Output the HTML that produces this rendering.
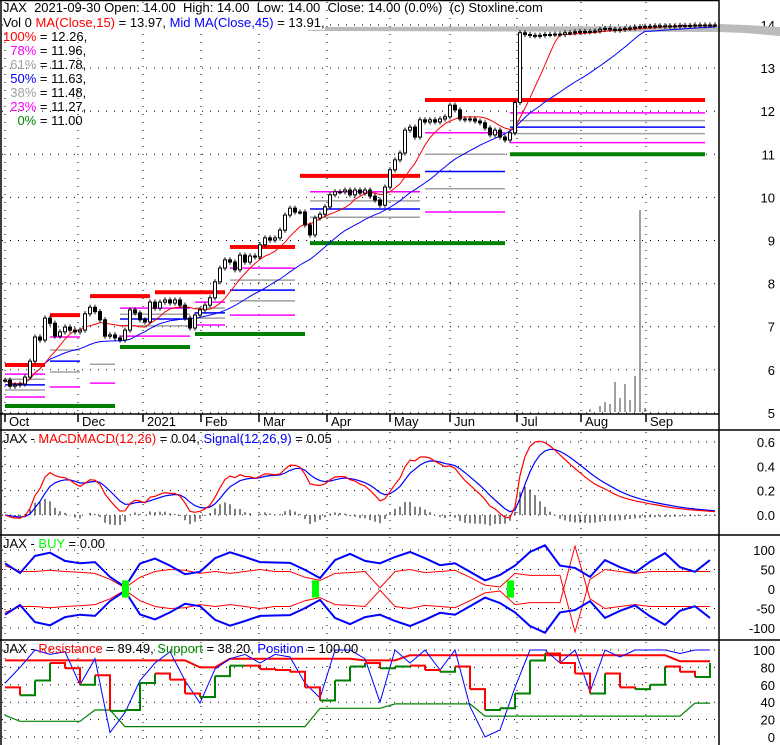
<!DOCTYPE html>
<html><head><meta charset="utf-8"><style>
html,body{margin:0;padding:0;background:#fff;}
svg{display:block;font-family:"Liberation Sans",sans-serif;}
text{font-size:13px;}
</style></head><body>
<svg id="chart" width="780" height="745" viewBox="0 0 780 745" xmlns="http://www.w3.org/2000/svg"></svg>
<script>
// ---- data ----
const closes = [5.76,5.62,5.65,5.67,5.83,6.2,6.76,6.69,7.2,7.08,
6.78,6.88,6.99,6.92,6.88,6.92,7.3,7.45,7.35,7.16,
6.78,6.81,6.74,6.69,6.92,7.39,7.32,7.16,7.11,7.57,
7.43,7.57,7.62,7.55,7.62,7.5,7.2,6.97,7.27,7.39,
7.5,7.67,8.04,8.36,8.55,8.5,8.32,8.66,8.5,8.64,
8.62,8.9,9.06,9.01,9.06,9.24,9.59,9.75,9.66,9.66,
9.36,9.13,9.52,9.61,9.78,10.06,10.13,10.13,10.17,10.06,
10.17,10.1,10.17,10.03,9.94,9.82,10.24,10.64,10.87,11.03,
11.56,11.63,11.4,11.8,11.75,11.8,11.75,11.82,11.87,12.14,
12.03,11.82,11.8,11.82,11.77,11.73,11.61,11.45,11.56,11.4,
11.33,11.5,12.2,13.82,13.78,13.76,13.75,13.76,13.78,13.78,
13.79,13.78,13.82,13.82,13.84,13.85,13.84,13.85,13.86,13.9,
13.92,13.9,13.88,13.9,13.92,13.93,13.95,13.96,13.97,13.97,
13.98,13.98,13.97,13.98,13.98,13.99,13.99,13.99,14.0,14.0,
14.0,14.0,14.0];
const volIdx = [117,119,120,121,122,123,124,125,126,127,128];
const volVals = [3,6,10,8,30,14,28,12,36,202,4];
const priceTicks = [14,13,12,11,10,9,8,7,6,5];
const monthLabels = ["Oct","Dec","2021","Feb","Mar","Apr","May","Jun","Jul","Aug","Sep"];
const monthBars = [0,14.6,27.6,39.2,50.8,64.4,77,89,102.4,115.2,128.2];
// fib segments: [startBar,endBar,price,kind]
const levelStart = [0,0,0,0,0,0,0, 9,9,9,9,9,9, 17,17,17, 23,30,23,23,23,23,23, 38,45,45,45,45,45,45, 38,38,38,38,38, 59,61,61,61,61,61, 84,84,84,84,84, 84,101,101,101,101,101,101];
const levelEnd   = [8,8,8,8,8,8,22, 15,15,15,15,15,15, 29,22,22, 37,44,37,37,37,37,37, 60,58,58,58,58,58,58, 44,44,44,44,44, 83,100,83,83,83,83, 100,100,100,100,100, 140,140,140,140,140,140,140];
const levelPrice = [6.11,5.9,5.78,5.65,5.53,5.37,5.16, 7.27,6.76,6.46,6.2,5.95,5.6, 7.71,6.13,5.69, 6.53,7.8,7.43,7.29,7.18,7.02,6.78, 6.83,8.85,8.36,8.08,7.85,7.6,7.27, 7.57,7.43,7.32,7.2,7.04, 10.5,8.94,10.13,9.92,9.73,9.54, 11.5,11.0,10.6,10.2,9.66, 12.26,11.0,11.96,11.78,11.63,11.48,11.27];
const levelKind  = ["r","m","g","b","g","m","G", "r","m","g","b","g","m", "r","g","m", "G","r","m","g","b","g","m", "G","r","m","g","b","g","m", "m","g","b","g","m", "r","G","m","g","b","g", "m","g","b","g","m", "r","G","m","g","b","g","m"];
// BUY panel (every 3 bars)
const buyBlue = [66,41,85,93,72,66,69,31,5,65,78,60,38,44,79,94,82,69,68,67,49,28,74,90,72,66,82,95,79,61,66,44,22,36,60,95,112,60,54,31,74,56,42,70,92,56,44,74];
const buyRed  = [60,45,45,48,45,43,40,25,3,30,45,50,48,40,45,40,45,50,45,45,30,22,40,42,45,3,45,50,42,45,48,30,10,5,40,35,35,35,-110,25,50,45,40,45,45,45,45,45];
const buySignalBars = [24,62,101];
// Resistance panel (every 3 bars)
const resistance = [88,88,88,88,88,88,88,88,88,88,88,88,88,80,80,90,90,90,90,90,90,90,90,90,88,88,88,94,94,94,94,94,94,94,94,94,94,94,94,94,94,94,94,94,94,87,87,87];
const support = [25,18,18,18,18,18,31,31,12,12,12,12,12,12,12,12,12,12,12,12,12,33,33,33,33,33,38,38,38,38,38,38,24,24,24,24,24,24,24,24,24,24,24,24,24,24,39,39];
const position = [62,80,100,95,98,60,90,5,28,65,85,98,65,39,78,90,95,85,95,92,62,45,100,100,90,40,100,85,100,77,100,35,0,8,57,100,100,85,100,52,100,92,100,100,100,96,100,100];
const oscillator = [57,48,65,85,79,60,71,30,31,62,73,66,50,46,70,82,82,78,77,75,57,42,65,81,85,79,81,82,77,75,81,55,31,33,50,88,96,85,73,50,73,57,55,60,81,75,69,85];

const NS="http://www.w3.org/2000/svg";
const svg=document.getElementById('chart');
function mk(tag,attrs,parent){const e=document.createElementNS(NS,tag);for(const k in attrs)e.setAttribute(k,attrs[k]);(parent||svg).appendChild(e);return e;}
const bx=i=>5+5*i;
const py=p=>25+(14-p)*43.1;
const my=v=>515-v*121.7;
const byy=v=>589-v*0.39;
const ry=v=>737-v*0.87;
const sx=i=>5+15*i;
const RIGHT=719;
const grid=mk('g',{});


function hdots(y,g){mk('line',{x1:2,x2:RIGHT,y1:y,y2:y,stroke:'#000','stroke-dasharray':'1,7','stroke-width':1},g);}
monthBars.forEach((b,k)=>{const x=bx(b);
 [[2,412],[432,533],[537,638],[642,745]].forEach(r=>{mk('line',{x1:x,x2:x,y1:r[0],y2:r[1],stroke:'#000','stroke-dasharray':'1,7'},grid);});
});
priceTicks.forEach(p=>{hdots(py(p),grid);const t=mk('text',{x:775,y:py(p)+5,'text-anchor':'end'});t.textContent=p;});
[0.6,0.4,0.2,0.0].forEach(v=>{hdots(my(v),grid);const t=mk('text',{x:775,y:my(v)+5,'text-anchor':'end'});t.textContent=v.toFixed(1);});
[100,50,0,-50,-100].forEach(v=>{hdots(byy(v),grid);const t=mk('text',{x:775,y:byy(v)+5,'text-anchor':'end'});t.textContent=v;});
[100,80,60,40,20,0].forEach(v=>{hdots(ry(v),grid);const t=mk('text',{x:775,y:ry(v)+5,'text-anchor':'end'});t.textContent=v;});
const band=mk('polygon',{points:'308,27 719,26 719,24 745,25 780,27 780,36 745,33 719,32 308,31',fill:'#bbbbbb'});


volIdx.forEach((b,k)=>{const l=mk('line',{x1:bx(b),x2:bx(b),y1:412,y2:412-volVals[k],stroke:'#808080','stroke-width':1.5});
 
 });
const colors={r:'#ff0000',m:'#ff00ff',g:'#a0a0a0',b:'#0000ff',G:'#008000'};
levelPrice.forEach((p,k)=>{const kd=levelKind[k];const w=(kd==='r'||kd==='G')?4:1.5;
 const l=mk('line',{x1:bx(levelStart[k]),x2:bx(levelEnd[k]),y1:py(p),y2:py(p),stroke:colors[kd],'stroke-width':w});
 
 });
function sma(n){return closes.map((c,i)=>{const s=Math.max(0,i-n+1);let t=0;for(let j=s;j<=i;j++)t+=closes[j];return t/(i-s+1);});}
function poly(vals,fx,fy,color,w,name){const pts=vals.map((v,i)=>fx(i).toFixed(1)+','+fy(v).toFixed(1)).join(' ');
 const p=mk('polyline',{points:pts,fill:'none',stroke:color,'stroke-width':w});
 
 return p;}
poly(sma(26),bx,py,'#0000ff',1,'ma45-line');
poly(sma(9),bx,py,'#ff0000',1,'ma15-line');
closes.forEach((c,i)=>{const o=i?closes[i-1]:c;const hi=Math.max(o,c)+0.06,lo=Math.min(o,c)-0.06;
 const g=mk('g',{});
 
 
 mk('line',{x1:bx(i),x2:bx(i),y1:py(hi),y2:py(lo),stroke:'#000'},g);
 const top=py(Math.max(o,c)),h=Math.max(1,Math.abs(py(o)-py(c)));
 mk('rect',{x:bx(i)-1.5,y:top,width:3,height:h,fill:c>=o?'#fff':'#000',stroke:'#000','stroke-width':1},g);});
function ema(src,n){const a=2/(n+1);const out=[];src.forEach((v,i)=>out.push(i?a*v+(1-a)*out[i-1]:v));return out;}
const e1=ema(closes,7),e2=ema(closes,15);
const macd=e1.map((v,i)=>v-e2[i]);const sig=ema(macd,5);
macd.forEach((m,i)=>{const d=m-sig[i];const l=mk('line',{x1:bx(i),x2:bx(i),y1:my(0),y2:my(d),stroke:'#000'});
 
 });
poly(sig,bx,my,'#0000ff',1.2,'signal-line');
poly(macd,bx,my,'#ff0000',1.2,'macd-line');
poly(buyRed,sx,byy,'#ff0000',1,'buy-red-upper');
poly(buyRed.map(v=>-v),sx,byy,'#ff0000',1,'buy-red-lower');
poly(buyBlue,sx,byy,'#0000ff',2,'buy-blue-upper');
poly(buyBlue.map(v=>-v),sx,byy,'#0000ff',2,'buy-blue-lower');
buySignalBars.forEach(b=>{const r=mk('rect',{x:bx(b)-3,y:byy(22),width:7,height:byy(-22)-byy(22),fill:'#00ff00'});
 
 });
poly(support,sx,ry,'#008000',1.2,'support-line');
poly(resistance,sx,ry,'#ff0000',2,'resistance-line');
poly(position,sx,ry,'#0000ff',1,'position-line');
oscillator.forEach((v,i)=>{if(!i)return;const p=oscillator[i-1];
 const s=mk('polyline',{points:`${sx(i-1)},${ry(p)} ${sx(i)},${ry(p)} ${sx(i)},${ry(v)}`,fill:'none',stroke:v>=p?'#008000':'#ff0000','stroke-width':2});
 
 });
const fr=mk('g',{stroke:'#000','stroke-width':1.5,fill:'none'});


mk('line',{x1:1,x2:1,y1:0,y2:745},fr);
mk('line',{x1:RIGHT,x2:RIGHT,y1:0,y2:745},fr);
mk('line',{x1:0,x2:RIGHT,y1:0.5,y2:0.5},fr);
mk('line',{x1:0,x2:RIGHT,y1:414,y2:414},fr);
[430,535,640].forEach(y=>mk('line',{x1:0,x2:780,y1:y,y2:y},fr));
monthBars.forEach((b,k)=>{mk('line',{x1:bx(b),x2:bx(b),y1:414,y2:422},fr);
 const t=mk('text',{x:bx(b)+4,y:426});t.textContent=monthLabels[k];
 
 });
</script>
<div style="position:absolute;left:0;top:0;width:780px;height:745px;pointer-events:none;font:13px 'Liberation Sans',sans-serif;line-height:14px;">
 <div style="position:absolute;left:3px;top:1px;white-space:pre;">JAX  2021-09-30 Open: 14.00  High: 14.00  Low: 14.00  Close: 14.00 (0.0%)  (c) Stoxline.com</div>
 <div style="position:absolute;left:3px;top:16px;white-space:pre;background:#fff;">Vol 0 <span style="color:#f00">MA(Close,15)</span> = 13.97, <span style="color:#00f">Mid MA(Close,45)</span> = 13.91,</div>
 <div style="position:absolute;left:3px;top:30px;white-space:pre;"><span style="color:#f00">100%</span> = 12.26,
  <span style="color:#f0f">78%</span> = 11.96,
  <span style="color:#a0a0a0">61%</span> = 11.78,
  <span style="color:#00f">50%</span> = 11.63,
  <span style="color:#a0a0a0">38%</span> = 11.48,
  <span style="color:#f0f">23%</span> = 11.27,
    <span style="color:#080">0%</span> = 11.00</div>
 <div style="position:absolute;left:3px;top:432px;white-space:pre;">JAX - <span style="color:#f00">MACDMACD(12,26)</span> = 0.04, <span style="color:#00f">Signal(12,26,9)</span> = 0.05</div>
 <div style="position:absolute;left:3px;top:537px;white-space:pre;">JAX - <span style="color:#0f0">BUY</span> = 0.00</div>
 <div style="position:absolute;left:3px;top:642px;white-space:pre;">JAX - <span style="color:#f00">Resistance</span> = 89.49, <span style="color:#080">Support</span> = 38.20, <span style="color:#00f">Position</span> = 100.00</div>
</div>
</body></html>
